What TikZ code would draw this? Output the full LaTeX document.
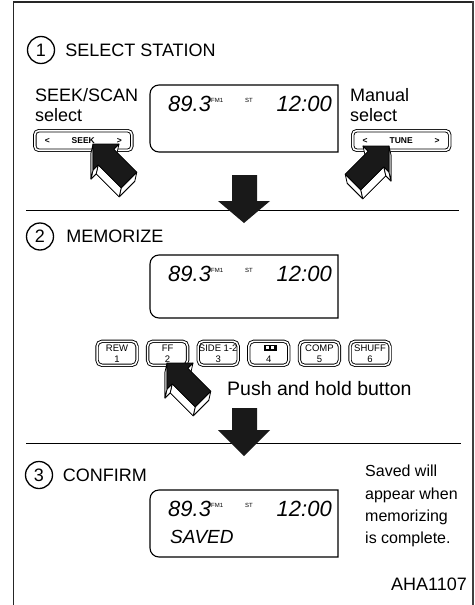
\documentclass[tikz,border=0pt]{standalone}
\usepackage{fontspec}
\setmainfont{Liberation Sans}
\usetikzlibrary{positioning}

% little cassette glyph on preset 4
\newcommand{\tapemark}{\rlap{\rule{13pt}{6.5pt}}\hspace{2.5pt}\textcolor{white}{\rule[1.7pt]{3pt}{3pt}}\hspace{1.5pt}\textcolor{white}{\rule[1.7pt]{3pt}{3pt}}\hspace{3pt}}

\begin{document}
\begin{tikzpicture}[x=1pt,y=-1pt,
  heading/.style={anchor=west,inner sep=0pt,font=\fontsize{18}{20}\selectfont},
  body/.style={anchor=base west,inner sep=0pt,align=left,font=\fontsize{18}{20}\selectfont},
  stepnum/.style={draw,circle,line width=1.3pt,minimum size=27pt,inner sep=0pt,font=\fontsize{18}{18}\selectfont},
  panel/.style={line width=1.1pt},
  lcd/.style={inner sep=0pt,font=\fontsize{22}{22}\selectfont\itshape},
  tiny/.style={inner sep=0pt,anchor=base west,font=\fontsize{6}{6}\selectfont},
  tunekey/.style={draw,double,double distance=1.6pt,line width=0.9pt,rounded corners=4pt,
    minimum width=97pt,minimum height=19.5pt,inner sep=0pt,font=\bfseries\fontsize{8.5}{8.5}\selectfont},
  presetkey/.style={draw,double,double distance=1.5pt,line width=0.9pt,rounded corners=5pt,
    minimum width=40pt,minimum height=24pt,inner sep=0pt,align=center,font=\fontsize{9.5}{11}\selectfont}]
\useasboundingbox (0,0) rectangle (474,605);

% Frame
\draw[line width=1.2pt,black!85] (13.5,605) -- (13.5,2) -- (472,2);
\draw[line width=2.2pt,black!75] (472.8,1) -- (472.8,605);

% Step headings
\node[stepnum] (one) at (41,50) {1};
\node[heading,right=10pt of one] (selecttitle) {SELECT STATION};
\node[stepnum] (two) at (40,236.5) {2};
\node[heading,right=12pt of two] (memotitle) {MEMORIZE};
\node[stepnum] (three) at (39,475) {3};
\node[heading,right=9.5pt of three] (confirmtitle) {CONFIRM};

% Side captions (base = last line)
\node[body] (seekcap) at (35,121.7) {SEEK/SCAN\\select};
\node[body] (manualcap) at (350,121.7) {Manual\\select};
\node[body,font=\fontsize{19.5}{20}\selectfont] (holdcap) at (227,395) {Push and hold button};
\node[body,font=\fontsize{16}{22.3}\selectfont] (savednote) at (365,543.6)
  {Saved will\\appear when\\memorizing\\is complete.};
\node[anchor=base east,inner sep=0pt,font=\fontsize{18}{18}\selectfont] (figid) at (467,590) {AHA1107};

% Displays
\foreach \yt/\yb/\n in {85/152/a, 255/318/b, 490/557/c} {
  \draw[panel] (338,\yt) [rounded corners=9pt] -- (150,\yt) -- (150,\yb) [sharp corners] -- (338,\yb) -- cycle;
  \node[lcd,anchor=base west] (freq\n) at (168,{\yt+26}) {89.3};
  \node[tiny] (band\n) at (211,{\yt+17}) {FM1};
  \node[tiny] (stereo\n) at (245,{\yt+17}) {ST};
  \node[lcd,anchor=base east] (clock\n) at (332,{\yt+26}) {12:00};
}
\node[lcd,anchor=base west,font=\fontsize{19}{19}\selectfont\itshape] (savedmsg) at (170,543) {SAVED};

% Tuning keys
\node[tunekey] (seekkey) at (83.3,140.5) {\makebox[77pt]{<\hfill SEEK\hfill>}};
\node[tunekey] (tunekey) at (401.2,140.5) {\makebox[77pt]{<\hfill TUNE\hfill>}};

% Preset keys
\foreach \lab/\num [count=\k] in {REW/1, FF/2, SIDE 1-2/3, \tapemark/4, COMP/5, SHUFF/6}
  \node[presetkey] (preset\k) at ({117+50.6*(\k-1)},353.3) {\lab\\\num};

% Dividers
\draw[line width=1.1pt] (26,210.7) -- (459,210.7);
\draw[line width=1.1pt] (26,443.3) -- (461,443.3);

% Big arrows between steps
\foreach \ys/\yh/\yt in {175/201/223, 408/430/456}
  \fill[black!90] (232,\ys) -- (257,\ys) -- (257,\yh) -- (270,\yh) -- (244,\yt)
    -- (218,\yh) -- (232,\yh) -- cycle;

% Finger pointers (black top, white side)
\foreach \tx/\ty/\sx in {93/144/1, 389/146/-1, 167/363/1} {
  \begin{scope}[shift={(\tx,\ty)},xscale=\sx,line width=0.8pt,line join=round]
    \filldraw[fill=white] (-2,9) -- (24,9) -- (18.8,14.2) -- (41.8,37.2) -- (26.2,52.8)
      -- (3.2,29.8) -- (-2,35) -- cycle;
    \filldraw[fill=white] (26,0) -- (20.8,5.2) -- (18.8,14.2) -- (24,9) -- cycle;
    \filldraw[fill=white] (43.8,28.2) -- (28.2,43.8) -- (26.2,52.8) -- (41.8,37.2) -- cycle;
    \filldraw[fill=white] (28.2,43.8) -- (5.2,20.8) -- (3.2,29.8) -- (26.2,52.8) -- cycle;
    \filldraw[fill=white] (5.2,20.8) -- (0,26) -- (-2,35) -- (3.2,29.8) -- cycle;
    \filldraw[fill=white] (0,26) -- (0,0) -- (-2,9) -- (-2,35) -- cycle;
    \filldraw[fill=black!90] (0,0) -- (26,0) -- (20.8,5.2) -- (43.8,28.2) -- (28.2,43.8)
      -- (5.2,20.8) -- (0,26) -- cycle;
  \end{scope}
}
\end{tikzpicture}
\end{document}
